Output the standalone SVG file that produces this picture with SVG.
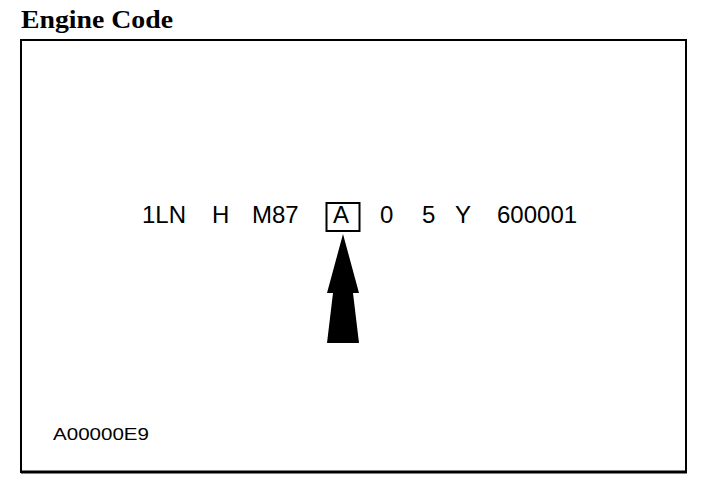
<svg xmlns="http://www.w3.org/2000/svg" width="704" height="498" viewBox="0 0 704 498">
<style>
.code{font-family:"Liberation Sans",Arial,sans-serif;font-size:24px;fill:#000}
.title{font-family:"Liberation Serif","Times New Roman",serif;font-weight:bold;font-size:26px;fill:#000}
.ref{font-family:"Liberation Sans",Arial,sans-serif;font-size:17px;fill:#000}
</style>
<rect width="704" height="498" fill="#fff"/>
<text class="title" x="21" y="28" textLength="152" lengthAdjust="spacingAndGlyphs">Engine Code</text>
<g id="frame">
<path d="M21 40 H686 V472 H21 Z" fill="none" stroke="#000" stroke-width="2"/>
<line x1="21" y1="472" x2="687" y2="472" stroke="#000" stroke-width="3"/>
</g>
<g id="code">
<text class="code" x="142" y="223">1LN</text>
<text class="code" x="212" y="223">H</text>
<text class="code" x="252" y="223">M87</text>
<text class="code" x="333" y="223">A</text>
<text class="code" x="380" y="223">0</text>
<text class="code" x="422" y="223">5</text>
<text class="code" x="455" y="223">Y</text>
<text class="code" x="497" y="223">600001</text>
</g>
<g id="box">
<rect x="326.5" y="203" width="33" height="28" fill="none" stroke="#000" stroke-width="2"/>
</g>
<g id="connectors">
<polygon points="343,234 359,293 353,293 359,343 327,343 333,293 327,293" fill="#000"/>
</g>
<text class="ref" x="53" y="440" textLength="96" lengthAdjust="spacingAndGlyphs">A00000E9</text>
</svg>
